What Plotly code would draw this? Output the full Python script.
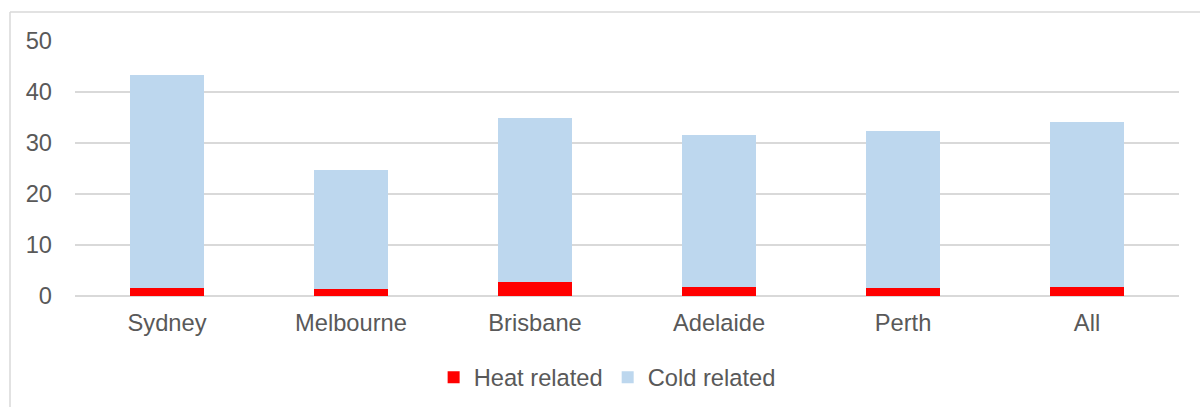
import plotly.graph_objects as go

# Excess deaths by city, split into heat- and cold-related components
cities = ["Sydney", "Melbourne", "Brisbane", "Adelaide", "Perth", "All"]
heat_related = [1.6, 1.4, 2.8, 1.8, 1.5, 1.7]
cold_related = [41.8, 23.4, 32.2, 29.8, 30.8, 32.5]
y_ticks = [0, 10, 20, 30, 40, 50]

FONT = "Liberation Sans, Arial, sans-serif"
FS = 23.7
TEXT_GREY = "#595959"
GRID_GREY = "#D9D9D9"

W, H = 1200, 407
M_L, M_R, M_T, M_B = 75, 21, 40.5, 111.3
plot_w = W - M_L - M_R
plot_h = H - M_T - M_B

fig = go.Figure()
fig.add_trace(go.Bar(
    name="Heat related", x=cities, y=heat_related,
    marker=dict(color="#FF0000", line=dict(width=0)),
))
fig.add_trace(go.Bar(
    name="Cold related", x=cities, y=cold_related,
    marker=dict(color="#BDD7EE", line=dict(width=0)),
))

# outer chart frame (top and left edges visible)
def px_x(x):
    return (x - M_L) / plot_w

def px_y(y):
    return (H - M_B - y) / plot_h

frame = dict(type="line", xref="paper", yref="paper",
             line=dict(color=GRID_GREY, width=1.5), layer="below")
fig.add_shape(**frame, x0=px_x(10), x1=px_x(1205), y0=px_y(11.5), y1=px_y(11.5))
fig.add_shape(**frame, x0=px_x(10), x1=px_x(10), y0=px_y(11.5), y1=px_y(415))

fig.update_layout(
    barmode="stack",
    bargap=0.603,
    width=W, height=H,
    margin=dict(l=M_L, r=M_R, t=M_T, b=M_B, pad=0, autoexpand=False),
    paper_bgcolor="white",
    plot_bgcolor="white",
    font=dict(family=FONT, size=FS, color=TEXT_GREY),
    showlegend=True,
    legend=dict(
        orientation="h",
        x=0.482, xanchor="center",
        y=px_y(377), yanchor="middle",
        font=dict(family=FONT, size=FS, color=TEXT_GREY),
        traceorder="normal",
        itemwidth=30,
    ),
    xaxis=dict(
        showgrid=False, showline=False, zeroline=False, automargin=False,
        ticks="", ticklabelstandoff=10,
        tickfont=dict(size=FS, color=TEXT_GREY),
    ),
    yaxis=dict(
        range=[0, 50], tickvals=y_ticks, automargin=False,
        showgrid=True, gridcolor=GRID_GREY, gridwidth=1.5,
        zeroline=True, zerolinecolor=GRID_GREY, zerolinewidth=1.5,
        showline=False, ticks="", ticklabelstandoff=22,
        tickfont=dict(size=FS, color=TEXT_GREY),
    ),
)

fig.write_html("out.html")
